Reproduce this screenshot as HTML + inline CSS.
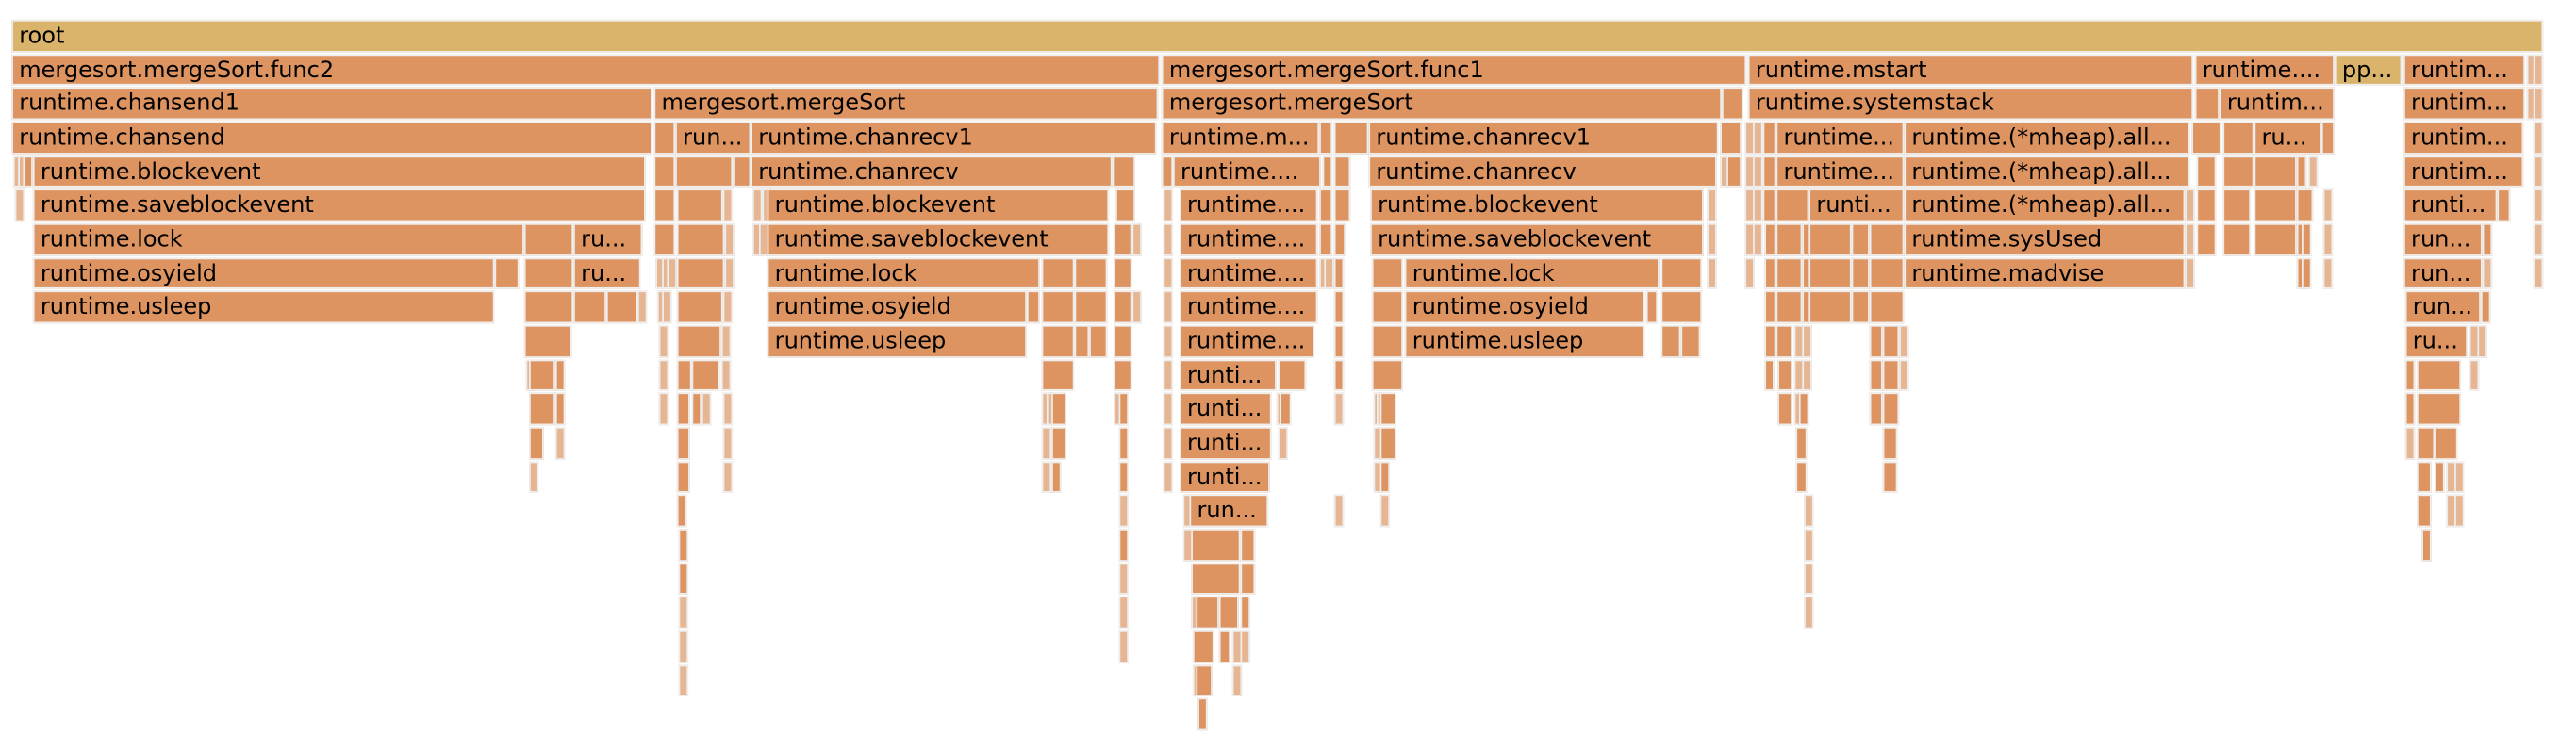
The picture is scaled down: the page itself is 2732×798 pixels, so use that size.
<!DOCTYPE html>
<html><head><meta charset="utf-8"><style>
html,body{margin:0;padding:0;background:#fff;width:2732px;height:798px;overflow:hidden}
#c{position:absolute;left:0;top:0;width:1568px;height:458px;transform:scale(1.742347);transform-origin:0 0}
i{position:absolute;display:block;font-style:normal;height:19.7px;background:#dd9460;border:0.6px solid #eee;box-sizing:border-box;font:13.8px "DejaVu Sans",sans-serif;line-height:18.2px;padding-left:3.6px;overflow:hidden;white-space:nowrap;color:#000}
i.g{background:#dbb46b}
i.s{background:#e6b592}
.r0{top:11.9px}.r1{top:32.6px}.r2{top:53.2px}.r3{top:73.9px}.r4{top:94.6px}.r5{top:115.3px}.r6{top:135.9px}.r7{top:156.6px}.r8{top:177.3px}.r9{top:197.9px}.r10{top:218.6px}.r11{top:239.3px}.r12{top:259.9px}.r13{top:280.6px}.r14{top:301.3px}.r15{top:321.9px}.r16{top:342.6px}.r17{top:363.3px}.r18{top:383.9px}.r19{top:404.6px}.r20{top:425.3px}
</style></head><body><div id="c">
<i class="g r0" style="left:7px;width:1541px">root</i>

<i class="r1" style="left:7px;width:699px">mergesort.mergeSort.func2</i>
<i class="r1" style="left:707px;width:356px">mergesort.mergeSort.func1</i>
<i class="r1" style="left:1064px;width:271px">runtime.mstart</i>
<i class="r1" style="left:1336px;width:85px">runtime....</i>
<i class="g r1" style="left:1421px;width:41px">pp...</i>
<i class="r1" style="left:1463px;width:74px">runtim...</i>
<i class="s r1" style="left:1538px;width:3px"></i>
<i class="s r1" style="left:1542px;width:3px"></i>

<i class="r2" style="left:7px;width:390px">runtime.chansend1</i>
<i class="r2" style="left:398px;width:307px">mergesort.mergeSort</i>
<i class="r2" style="left:707px;width:341px">mergesort.mergeSort</i>
<i class="r2" style="left:1048px;width:13px"></i>
<i class="r2" style="left:1064px;width:271px">runtime.systemstack</i>
<i class="r2" style="left:1336px;width:15px"></i>
<i class="r2" style="left:1351px;width:70px">runtim...</i>
<i class="r2" style="left:1463px;width:74px">runtim...</i>
<i class="s r2" style="left:1538px;width:3px"></i>
<i class="s r2" style="left:1542px;width:3px"></i>

<i class="r3" style="left:7px;width:390px">runtime.chansend</i>
<i class="r3" style="left:398px;width:13px"></i>
<i class="r3" style="left:411px;width:46px">run...</i>
<i class="r3" style="left:457px;width:247px">runtime.chanrecv1</i>
<i class="r3" style="left:707px;width:96px">runtime.m...</i>
<i class="r3" style="left:803px;width:8px"></i>
<i class="r3" style="left:812px;width:21px"></i>
<i class="r3" style="left:833px;width:213px">runtime.chanrecv1</i>
<i class="r3" style="left:1047px;width:13px"></i>
<i class="s r3" style="left:1062px;width:4px"></i>
<i class="s r3" style="left:1067px;width:5px"></i>
<i class="r3" style="left:1073px;width:8px"></i>
<i class="r3" style="left:1081px;width:78px">runtime...</i>
<i class="r3" style="left:1159px;width:174px">runtime.(*mheap).all...</i>
<i class="r3" style="left:1334px;width:18px"></i>
<i class="r3" style="left:1353px;width:19px"></i>
<i class="r3" style="left:1372px;width:41px">ru...</i>
<i class="r3" style="left:1413px;width:8px"></i>
<i class="r3" style="left:1463px;width:73px">runtim...</i>
<i class="s r3" style="left:1542px;width:3px"></i>

<i class="s r4" style="left:8px;width:2px"></i>
<i class="s r4" style="left:11px;width:2px"></i>
<i class="r4" style="left:14px;width:5px"></i>
<i class="r4" style="left:20px;width:373px">runtime.blockevent</i>
<i class="r4" style="left:398px;width:13px"></i>
<i class="r4" style="left:411px;width:35px"></i>
<i class="r4" style="left:446px;width:11px"></i>
<i class="r4" style="left:457px;width:220px">runtime.chanrecv</i>
<i class="r4" style="left:677px;width:14px"></i>
<i class="r4" style="left:707px;width:7px"></i>
<i class="r4" style="left:714px;width:90px">runtime....</i>
<i class="r4" style="left:805px;width:6px"></i>
<i class="r4" style="left:812px;width:10px"></i>
<i class="r4" style="left:833px;width:212px">runtime.chanrecv</i>
<i class="s r4" style="left:1047px;width:3px"></i>
<i class="r4" style="left:1051px;width:9px"></i>
<i class="s r4" style="left:1062px;width:4px"></i>
<i class="s r4" style="left:1067px;width:5px"></i>
<i class="r4" style="left:1073px;width:8px"></i>
<i class="r4" style="left:1081px;width:78px">runtime...</i>
<i class="r4" style="left:1159px;width:174px">runtime.(*mheap).all...</i>
<i class="r4" style="left:1337px;width:12px"></i>
<i class="r4" style="left:1353px;width:19px"></i>
<i class="r4" style="left:1372px;width:26px"></i>
<i class="r4" style="left:1398px;width:5px"></i>
<i class="s r4" style="left:1405px;width:5px"></i>
<i class="r4" style="left:1463px;width:73px">runtim...</i>
<i class="s r4" style="left:1542px;width:3px"></i>

<i class="s r5" style="left:9px;width:2px"></i>
<i class="r5" style="left:20px;width:373px">runtime.saveblockevent</i>
<i class="r5" style="left:398px;width:13px"></i>
<i class="r5" style="left:412px;width:28px"></i>
<i class="s r5" style="left:440px;width:3px"></i>
<i class="s r5" style="left:458px;width:2px"></i>
<i class="s r5" style="left:464px;width:2px"></i>
<i class="r5" style="left:467px;width:208px">runtime.blockevent</i>
<i class="r5" style="left:679px;width:12px"></i>
<i class="s r5" style="left:708px;width:4px"></i>
<i class="r5" style="left:718px;width:84px">runtime....</i>
<i class="r5" style="left:803px;width:8px"></i>
<i class="r5" style="left:812px;width:10px"></i>
<i class="r5" style="left:834px;width:203px">runtime.blockevent</i>
<i class="s r5" style="left:1039px;width:3px"></i>
<i class="s r5" style="left:1062px;width:4px"></i>
<i class="s r5" style="left:1067px;width:5px"></i>
<i class="r5" style="left:1073px;width:8px"></i>
<i class="r5" style="left:1081px;width:20px"></i>
<i class="r5" style="left:1101px;width:58px">runti...</i>
<i class="r5" style="left:1159px;width:171px">runtime.(*mheap).all...</i>
<i class="s r5" style="left:1330px;width:3px"></i>
<i class="r5" style="left:1337px;width:12px"></i>
<i class="r5" style="left:1353px;width:17px"></i>
<i class="r5" style="left:1372px;width:26px"></i>
<i class="r5" style="left:1398px;width:10px"></i>
<i class="s r5" style="left:1414px;width:4px"></i>
<i class="r5" style="left:1463px;width:57px">runti...</i>
<i class="r5" style="left:1520px;width:8px"></i>
<i class="s r5" style="left:1542px;width:3px"></i>

<i class="r6" style="left:20px;width:299px">runtime.lock</i>
<i class="r6" style="left:319px;width:30px"></i>
<i class="r6" style="left:349px;width:42px">ru...</i>
<i class="r6" style="left:398px;width:13px"></i>
<i class="r6" style="left:412px;width:29px"></i>
<i class="s r6" style="left:441px;width:3px"></i>
<i class="s r6" style="left:458px;width:2px"></i>
<i class="s r6" style="left:462px;width:2px"></i>
<i class="r6" style="left:467px;width:208px">runtime.saveblockevent</i>
<i class="r6" style="left:678px;width:11px"></i>
<i class="s r6" style="left:689px;width:2px"></i>
<i class="s r6" style="left:708px;width:4px"></i>
<i class="r6" style="left:718px;width:84px">runtime....</i>
<i class="r6" style="left:803px;width:8px"></i>
<i class="r6" style="left:812px;width:7px"></i>
<i class="r6" style="left:834px;width:203px">runtime.saveblockevent</i>
<i class="s r6" style="left:1039px;width:2px"></i>
<i class="s r6" style="left:1062px;width:2px"></i>
<i class="s r6" style="left:1067px;width:3px"></i>
<i class="r6" style="left:1074px;width:7px"></i>
<i class="r6" style="left:1081px;width:16px"></i>
<i class="r6" style="left:1097px;width:4px"></i>
<i class="r6" style="left:1101px;width:26px"></i>
<i class="r6" style="left:1127px;width:11px"></i>
<i class="r6" style="left:1138px;width:21px"></i>
<i class="r6" style="left:1159px;width:171px">runtime.sysUsed</i>
<i class="s r6" style="left:1330px;width:3px"></i>
<i class="r6" style="left:1337px;width:12px"></i>
<i class="r6" style="left:1353px;width:17px"></i>
<i class="r6" style="left:1372px;width:26px"></i>
<i class="r6" style="left:1398px;width:3px"></i>
<i class="r6" style="left:1401px;width:6px"></i>
<i class="s r6" style="left:1414px;width:4px"></i>
<i class="r6" style="left:1463px;width:48px">run...</i>
<i class="r6" style="left:1511px;width:5px"></i>
<i class="s r6" style="left:1542px;width:3px"></i>

<i class="r7" style="left:20px;width:281px">runtime.osyield</i>
<i class="r7" style="left:301px;width:15px"></i>
<i class="r7" style="left:319px;width:30px"></i>
<i class="r7" style="left:349px;width:41px">ru...</i>
<i class="s r7" style="left:399px;width:2px"></i>
<i class="s r7" style="left:403px;width:2px"></i>
<i class="s r7" style="left:406px;width:3px"></i>
<i class="r7" style="left:412px;width:29px"></i>
<i class="s r7" style="left:441px;width:3px"></i>
<i class="r7" style="left:467px;width:166px">runtime.lock</i>
<i class="r7" style="left:634px;width:20px"></i>
<i class="r7" style="left:654px;width:20px"></i>
<i class="r7" style="left:678px;width:11px"></i>
<i class="s r7" style="left:708px;width:4px"></i>
<i class="r7" style="left:718px;width:84px">runtime....</i>
<i class="s r7" style="left:803px;width:2px"></i>
<i class="s r7" style="left:806px;width:2px"></i>
<i class="r7" style="left:812px;width:5px"></i>
<i class="r7" style="left:835px;width:19px"></i>
<i class="r7" style="left:855px;width:155px">runtime.lock</i>
<i class="r7" style="left:1011px;width:25px"></i>
<i class="s r7" style="left:1039px;width:2px"></i>
<i class="s r7" style="left:1062px;width:3px"></i>
<i class="r7" style="left:1074px;width:7px"></i>
<i class="r7" style="left:1081px;width:16px"></i>
<i class="r7" style="left:1097px;width:4px"></i>
<i class="r7" style="left:1101px;width:26px"></i>
<i class="r7" style="left:1127px;width:11px"></i>
<i class="r7" style="left:1138px;width:21px"></i>
<i class="r7" style="left:1159px;width:171px">runtime.madvise</i>
<i class="s r7" style="left:1330px;width:3px"></i>
<i class="r7" style="left:1398px;width:3px"></i>
<i class="r7" style="left:1401px;width:6px"></i>
<i class="s r7" style="left:1414px;width:2px"></i>
<i class="r7" style="left:1463px;width:48px">run...</i>
<i class="s r7" style="left:1511px;width:3px"></i>
<i class="s r7" style="left:1542px;width:2px"></i>

<i class="r8" style="left:20px;width:281px">runtime.usleep</i>
<i class="r8" style="left:319px;width:30px"></i>
<i class="r8" style="left:349px;width:20px"></i>
<i class="r8" style="left:369px;width:19px"></i>
<i class="s r8" style="left:388px;width:2px"></i>
<i class="s r8" style="left:400px;width:2px"></i>
<i class="s r8" style="left:403px;width:2px"></i>
<i class="r8" style="left:412px;width:28px"></i>
<i class="s r8" style="left:440px;width:2px"></i>
<i class="r8" style="left:467px;width:158px">runtime.osyield</i>
<i class="r8" style="left:625px;width:8px"></i>
<i class="r8" style="left:634px;width:20px"></i>
<i class="r8" style="left:654px;width:20px"></i>
<i class="r8" style="left:678px;width:11px"></i>
<i class="s r8" style="left:689px;width:2px"></i>
<i class="s r8" style="left:708px;width:3px"></i>
<i class="r8" style="left:718px;width:84px">runtime....</i>
<i class="r8" style="left:812px;width:5px"></i>
<i class="r8" style="left:835px;width:19px"></i>
<i class="r8" style="left:855px;width:146px">runtime.osyield</i>
<i class="r8" style="left:1002px;width:7px"></i>
<i class="r8" style="left:1011px;width:25px"></i>
<i class="r8" style="left:1074px;width:7px"></i>
<i class="r8" style="left:1081px;width:16px"></i>
<i class="r8" style="left:1097px;width:4px"></i>
<i class="r8" style="left:1101px;width:26px"></i>
<i class="r8" style="left:1127px;width:11px"></i>
<i class="r8" style="left:1138px;width:21px"></i>
<i class="r8" style="left:1464px;width:46px">run...</i>
<i class="r8" style="left:1510px;width:3px"></i>

<i class="r9" style="left:319px;width:29px"></i>
<i class="s r9" style="left:401px;width:2px"></i>
<i class="r9" style="left:412px;width:27px"></i>
<i class="s r9" style="left:439px;width:2px"></i>
<i class="r9" style="left:467px;width:158px">runtime.usleep</i>
<i class="r9" style="left:634px;width:20px"></i>
<i class="r9" style="left:654px;width:9px"></i>
<i class="r9" style="left:663px;width:11px"></i>
<i class="r9" style="left:678px;width:11px"></i>
<i class="s r9" style="left:708px;width:3px"></i>
<i class="r9" style="left:718px;width:82px">runtime....</i>
<i class="r9" style="left:812px;width:4px"></i>
<i class="r9" style="left:835px;width:19px"></i>
<i class="r9" style="left:855px;width:146px">runtime.usleep</i>
<i class="r9" style="left:1011px;width:12px"></i>
<i class="r9" style="left:1023px;width:12px"></i>
<i class="r9" style="left:1074px;width:7px"></i>
<i class="r9" style="left:1081px;width:10px"></i>
<i class="s r9" style="left:1092px;width:2px"></i>
<i class="s r9" style="left:1097px;width:3px"></i>
<i class="r9" style="left:1138px;width:8px"></i>
<i class="r9" style="left:1146px;width:10px"></i>
<i class="s r9" style="left:1156px;width:2px"></i>
<i class="r9" style="left:1464px;width:38px">ru...</i>
<i class="s r9" style="left:1503px;width:2px"></i>
<i class="s r9" style="left:1508px;width:2px"></i>

<i class="s r10" style="left:320px;width:2px"></i>
<i class="r10" style="left:322px;width:16px"></i>
<i class="r10" style="left:338px;width:4px"></i>
<i class="s r10" style="left:401px;width:2px"></i>
<i class="r10" style="left:412px;width:9px"></i>
<i class="r10" style="left:421px;width:17px"></i>
<i class="s r10" style="left:439px;width:2px"></i>
<i class="r10" style="left:634px;width:20px"></i>
<i class="r10" style="left:678px;width:11px"></i>
<i class="s r10" style="left:708px;width:3px"></i>
<i class="r10" style="left:718px;width:59px">runti...</i>
<i class="r10" style="left:778px;width:17px"></i>
<i class="r10" style="left:812px;width:4px"></i>
<i class="r10" style="left:835px;width:19px"></i>
<i class="r10" style="left:1074px;width:5px"></i>
<i class="r10" style="left:1082px;width:9px"></i>
<i class="s r10" style="left:1092px;width:2px"></i>
<i class="s r10" style="left:1097px;width:3px"></i>
<i class="r10" style="left:1138px;width:8px"></i>
<i class="r10" style="left:1146px;width:10px"></i>
<i class="s r10" style="left:1156px;width:2px"></i>
<i class="r10" style="left:1464px;width:6px"></i>
<i class="r10" style="left:1471px;width:27px"></i>
<i class="s r10" style="left:1503px;width:2px"></i>

<i class="r11" style="left:322px;width:16px"></i>
<i class="r11" style="left:338px;width:4px"></i>
<i class="s r11" style="left:401px;width:2px"></i>
<i class="r11" style="left:412px;width:8px"></i>
<i class="r11" style="left:421px;width:6px"></i>
<i class="s r11" style="left:427px;width:2px"></i>
<i class="s r11" style="left:440px;width:2px"></i>
<i class="s r11" style="left:634px;width:2px"></i>
<i class="s r11" style="left:637px;width:3px"></i>
<i class="r11" style="left:640px;width:9px"></i>
<i class="s r11" style="left:678px;width:3px"></i>
<i class="r11" style="left:681px;width:6px"></i>
<i class="s r11" style="left:708px;width:3px"></i>
<i class="r11" style="left:718px;width:56px">runti...</i>
<i class="s r11" style="left:777px;width:2px"></i>
<i class="r11" style="left:779px;width:7px"></i>
<i class="s r11" style="left:812px;width:3px"></i>
<i class="s r11" style="left:836px;width:2px"></i>
<i class="s r11" style="left:838px;width:2px"></i>
<i class="r11" style="left:840px;width:10px"></i>
<i class="r11" style="left:1082px;width:9px"></i>
<i class="s r11" style="left:1092px;width:2px"></i>
<i class="r11" style="left:1095px;width:5px"></i>
<i class="r11" style="left:1138px;width:8px"></i>
<i class="r11" style="left:1146px;width:10px"></i>
<i class="r11" style="left:1464px;width:6px"></i>
<i class="r11" style="left:1471px;width:27px"></i>

<i class="r12" style="left:322px;width:9px"></i>
<i class="s r12" style="left:338px;width:2px"></i>
<i class="r12" style="left:412px;width:8px"></i>
<i class="s r12" style="left:440px;width:2px"></i>
<i class="s r12" style="left:634px;width:2px"></i>
<i class="r12" style="left:640px;width:9px"></i>
<i class="r12" style="left:681px;width:6px"></i>
<i class="s r12" style="left:708px;width:3px"></i>
<i class="r12" style="left:718px;width:56px">runti...</i>
<i class="s r12" style="left:778px;width:2px"></i>
<i class="s r12" style="left:836px;width:2px"></i>
<i class="r12" style="left:840px;width:10px"></i>
<i class="r12" style="left:1093px;width:7px"></i>
<i class="r12" style="left:1146px;width:9px"></i>
<i class="s r12" style="left:1464px;width:3px"></i>
<i class="r12" style="left:1471px;width:11px"></i>
<i class="r12" style="left:1482px;width:14px"></i>

<i class="s r13" style="left:322px;width:2px"></i>
<i class="r13" style="left:412px;width:8px"></i>
<i class="s r13" style="left:440px;width:2px"></i>
<i class="s r13" style="left:634px;width:2px"></i>
<i class="r13" style="left:640px;width:6px"></i>
<i class="r13" style="left:681px;width:6px"></i>
<i class="s r13" style="left:708px;width:3px"></i>
<i class="r13" style="left:718px;width:55px">runti...</i>
<i class="s r13" style="left:836px;width:2px"></i>
<i class="r13" style="left:840px;width:5px"></i>
<i class="r13" style="left:1093px;width:7px"></i>
<i class="r13" style="left:1146px;width:9px"></i>
<i class="r13" style="left:1471px;width:9px"></i>
<i class="r13" style="left:1482px;width:6px"></i>
<i class="s r13" style="left:1489px;width:2px"></i>
<i class="s r13" style="left:1494px;width:2px"></i>

<i class="r14" style="left:412px;width:6px"></i>
<i class="s r14" style="left:681px;width:2px"></i>
<i class="s r14" style="left:720px;width:2px"></i>
<i class="r14" style="left:724px;width:48px">run...</i>
<i class="s r14" style="left:812px;width:2px"></i>
<i class="s r14" style="left:840px;width:2px"></i>
<i class="s r14" style="left:1098px;width:2px"></i>
<i class="r14" style="left:1471px;width:9px"></i>
<i class="s r14" style="left:1489px;width:2px"></i>
<i class="s r14" style="left:1494px;width:2px"></i>

<i class="r15" style="left:413px;width:4px"></i>
<i class="r15" style="left:681px;width:5px"></i>
<i class="s r15" style="left:720px;width:2px"></i>
<i class="r15" style="left:725px;width:30px"></i>
<i class="r15" style="left:755px;width:9px"></i>
<i class="s r15" style="left:1098px;width:2px"></i>
<i class="r15" style="left:1474px;width:3px"></i>

<i class="r16" style="left:413px;width:4px"></i>
<i class="s r16" style="left:681px;width:2px"></i>
<i class="r16" style="left:725px;width:30px"></i>
<i class="r16" style="left:755px;width:9px"></i>
<i class="s r16" style="left:1098px;width:2px"></i>

<i class="s r17" style="left:413px;width:2px"></i>
<i class="s r17" style="left:681px;width:2px"></i>
<i class="s r17" style="left:725px;width:2px"></i>
<i class="r17" style="left:728px;width:14px"></i>
<i class="r17" style="left:742px;width:12px"></i>
<i class="r17" style="left:755px;width:5px"></i>
<i class="s r17" style="left:1098px;width:2px"></i>

<i class="s r18" style="left:413px;width:2px"></i>
<i class="s r18" style="left:681px;width:2px"></i>
<i class="r18" style="left:726px;width:13px"></i>
<i class="r18" style="left:742px;width:7px"></i>
<i class="s r18" style="left:750px;width:2px"></i>
<i class="s r18" style="left:755px;width:2px"></i>

<i class="s r19" style="left:413px;width:2px"></i>
<i class="s r19" style="left:726px;width:2px"></i>
<i class="r19" style="left:728px;width:10px"></i>
<i class="s r19" style="left:750px;width:2px"></i>

<i class="r20" style="left:729px;width:5px"></i>
</div></body></html>
